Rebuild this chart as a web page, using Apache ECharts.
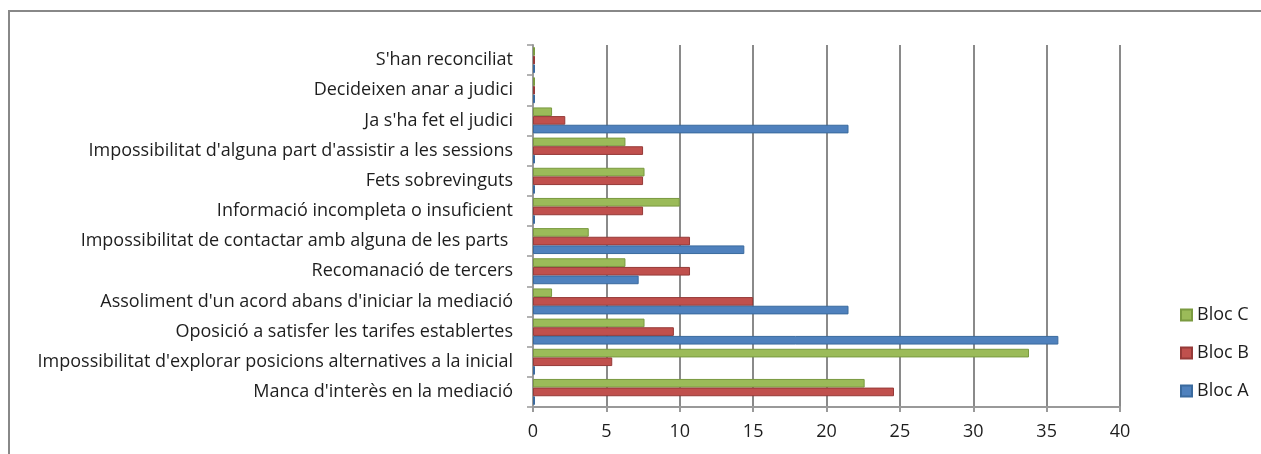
<!DOCTYPE html>
<html>
<head>
  <meta charset="utf-8">
  <title>ECharts</title>
  <script src="https://cdn.jsdelivr.net/npm/echarts@6/dist/echarts.min.js"></script>
  <style>
    body { margin: 0; background: #fff; }
    #frame { position: absolute; left: 8px; top: 10px; width: 1400px; height: 600px; border: 2px solid #888; }
    #main { position: absolute; left: 0; top: 0; width: 1261px; height: 454px; }
  </style>
</head>
<body>
<div id="frame"></div>
<div id="main"></div>

<script type="text/javascript">
  // categories, bottom to top
  var categories = [
    "Manca d'interès en la mediació",
    "Impossibilitat d'explorar posicions alternatives a la inicial",
    "Oposició a satisfer les tarifes establertes",
    "Assoliment d'un acord abans d'iniciar la mediació",
    "Recomanació de tercers",
    "Impossibilitat de contactar amb alguna de les parts ",
    "Informació incompleta o insuficient",
    "Fets sobrevinguts",
    "Impossibilitat d'alguna part d'assistir a les sessions",
    "Ja s'ha fet el judici",
    "Decideixen anar a judici",
    "S'han reconciliat"
  ];
  var blocA = [0, 0, 35.8, 21.5, 7.2, 14.4, 0, 0, 0, 21.5, 0, 0];
  var blocB = [24.6, 5.4, 9.6, 15.0, 10.7, 10.7, 7.5, 7.5, 7.5, 2.2, 0, 0];
  var blocC = [22.6, 33.8, 7.6, 1.3, 6.3, 3.8, 10.0, 7.6, 6.3, 1.3, 0, 0];
  var ticks = [0, 5, 10, 15, 20, 25, 30, 35, 40];

  var font = '"Open Sans", "Noto Sans", sans-serif';

  function barSeries(name, data, color, edge) {
    return {
      name: name,
      type: 'bar',
      data: data,
      barGap: '0%',
      barCategoryGap: '14%',
      barMinHeight: 2,
      itemStyle: { color: color, borderColor: edge, borderWidth: 1 }
    };
  }

  var myChart = echarts.init(document.getElementById('main'));
  var option = {
    animation: false,
    textStyle: { fontFamily: font },
    grid: { left: 533, right: 141, top: 45, bottom: 47, containLabel: false },
    legend: {
      data: ['Bloc C', 'Bloc B', 'Bloc A'],
      orient: 'vertical',
      left: 1175,
      top: 301,
      itemWidth: 11,
      itemHeight: 11,
      itemGap: 20,
      icon: 'rect',
      textStyle: { fontSize: 18, color: '#1e1e1e', fontFamily: font }
    },
    xAxis: {
      type: 'value',
      min: ticks[0],
      max: ticks[ticks.length - 1],
      interval: 5,
      axisLine: { show: true, lineStyle: { color: '#999', width: 2 } },
      axisTick: { show: true, length: 5, lineStyle: { color: '#999', width: 2 } },
      axisLabel: { fontSize: 18, color: '#1e1e1e', margin: 16 },
      splitLine: { show: true, lineStyle: { color: '#8a8a8a', width: 2 } }
    },
    yAxis: {
      type: 'category',
      data: categories,
      axisLine: { show: true, lineStyle: { color: '#999', width: 2 } },
      axisTick: { show: true, length: 6, lineStyle: { color: '#999', width: 1.5 } },
      axisLabel: { fontSize: 18, color: '#1e1e1e', margin: 20 }
    },
    // in a horizontal bar the last series sits at the bottom of each band
    series: [
      barSeries('Bloc C', blocC, '#9BBB59', '#7A9A40'),
      barSeries('Bloc B', blocB, '#C0504D', '#963A38'),
      barSeries('Bloc A', blocA, '#4F81BD', '#3A6A9E')
    ]
  };
  myChart.setOption(option);
</script>
</body>
</html>
